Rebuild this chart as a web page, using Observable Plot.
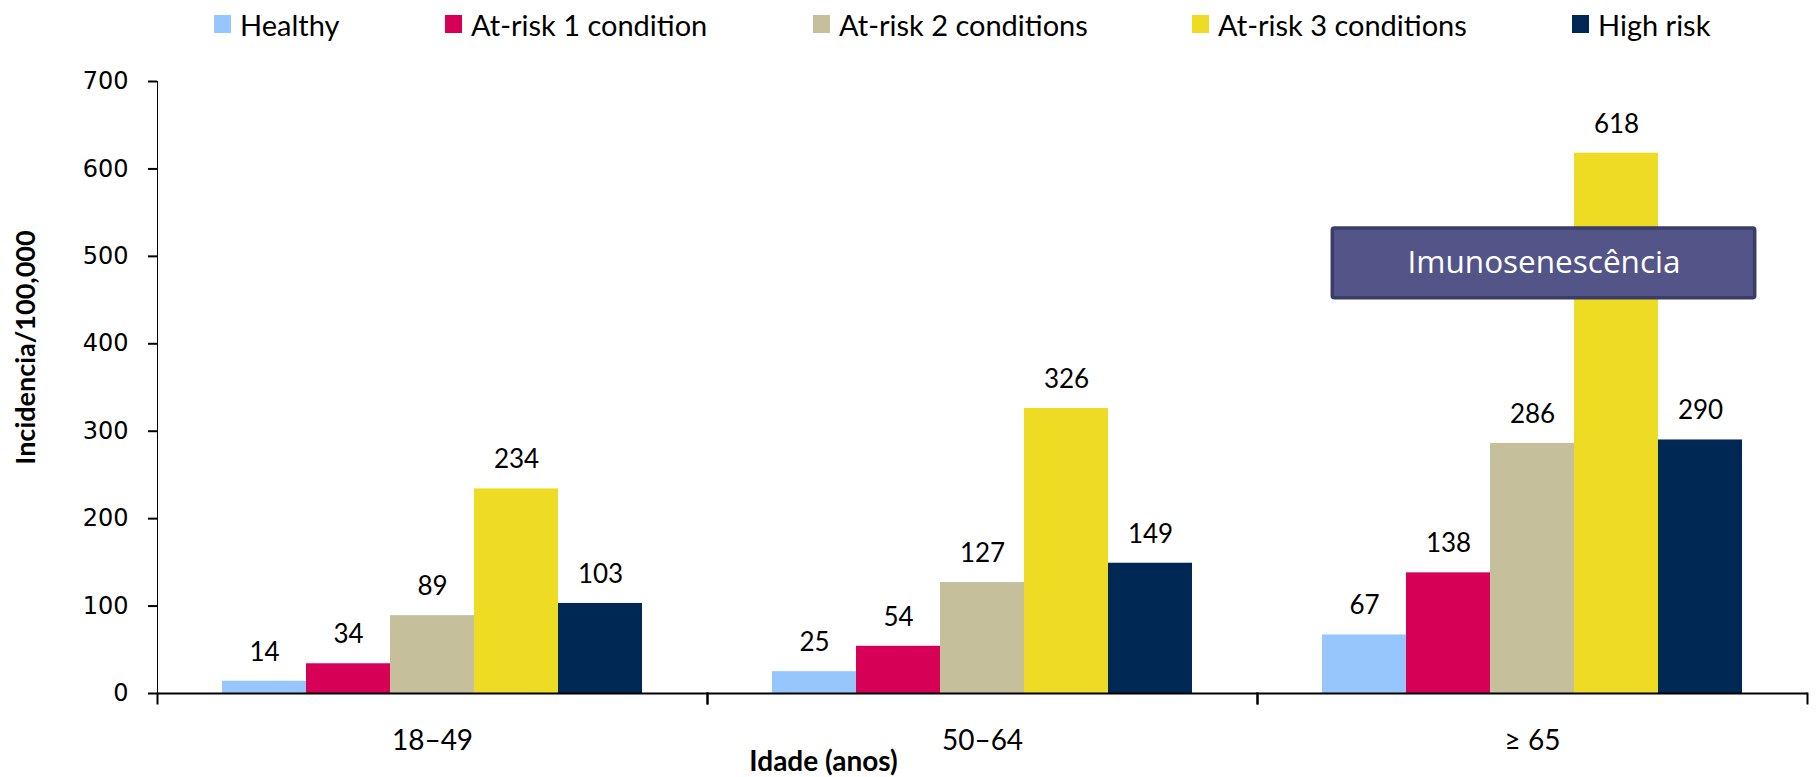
<!DOCTYPE html>
<html>
<head>
<meta charset="utf-8">
<script src="https://cdn.jsdelivr.net/npm/d3@7"></script>
<script src="https://cdn.jsdelivr.net/npm/@observablehq/plot@0.6"></script>
<style>
  html, body { margin: 0; padding: 0; background: #fff; }
  #legend { position: relative; height: 48px; font-family: Lato, sans-serif; font-size: 29px; color: #000; }
  #legend .item { position: absolute; top: 0; height: 48px; display: flex; align-items: center; white-space: nowrap; }
  #legend .sw { width: 17px; height: 18px; margin-right: 9px; }
  #chart svg { display: block; }
  #chart g[aria-label^="y-axis"] text { font-family: "DejaVu Sans", sans-serif; font-size: 24px; }
  #chart g[aria-label^="y-axis"] path, #chart g[aria-label^="y-axis"] line { stroke-width: 2px; }
</style>
</head>
<body>
<div id="legend"></div>
<div id="chart"></div>
<script>
// ---- data ----
const groups = ["18–49", "50–64", "≥ 65"];
const series = ["Healthy", "At-risk 1 condition", "At-risk 2 conditions", "At-risk 3 conditions", "High risk"];
const healthy = [14, 25, 67];
const atRisk1 = [34, 54, 138];
const atRisk2 = [89, 127, 286];
const atRisk3 = [234, 326, 618];
const highRisk = [103, 149, 290];
const colors = ["#97C6FD", "#D60057", "#C6BF9B", "#EEDB24", "#002855"];
const yTicks = [0, 100, 200, 300, 400, 500, 600, 700];
const yLabel = "Incidencia/100,000";
const xLabel = "Idade (anos)";
const annotation = [{group: "≥ 65", series: "At-risk 2 conditions", y1: 452, y2: 532, label: "Imunosenescência"}];

const seriesValues = [healthy, atRisk1, atRisk2, atRisk3, highRisk];
const data = groups.flatMap((g, i) => series.map((s, j) => ({group: g, series: s, value: seriesValues[j][i]})));

// ---- legend ----
const legendLeft = [214, 445, 813, 1192, 1572];
const legend = document.getElementById("legend");
series.forEach((s, j) => {
  const it = document.createElement("div");
  it.className = "item";
  it.style.left = legendLeft[j] + "px";
  const sw = document.createElement("div");
  sw.className = "sw";
  sw.style.background = colors[j];
  const tx = document.createElement("span");
  tx.textContent = s;
  it.appendChild(sw); it.appendChild(tx);
  legend.appendChild(it);
});

// ---- chart ----
const W = 1816, H = 729, mT = 33, mB = 84, mL = 156, mR = 9;
const innerH = H - mT - mB;

const chart = Plot.plot({
  width: W, height: H,
  marginTop: mT, marginBottom: mB, marginLeft: mL, marginRight: mR,
  style: {fontFamily: "Lato, sans-serif", fontSize: "28px", color: "#000", background: "#fff", overflow: "visible"},
  fx: {domain: groups, padding: 0, label: null, tickSize: 0, tickPadding: 37},
  x: {domain: series, paddingInner: 0, paddingOuter: 0.75, axis: null},
  y: {domain: [0, 700], ticks: yTicks, tickSize: 9, tickPadding: 20, label: null, line: true},
  color: {domain: series, range: colors},
  marks: [
    Plot.barY(data, {fx: "group", x: "series", y: "value", fill: "series"}),
    Plot.ruleY([0], {strokeWidth: 2}),
    Plot.frame({anchor: "left", insetTop: innerH, insetBottom: -10, strokeWidth: 2}),
    Plot.frame({anchor: "right", insetTop: innerH, insetBottom: -10, strokeWidth: 2}),
    Plot.text(data, {fx: "group", x: "series", y: "value", text: d => String(d.value), dy: -29, fontSize: 26, fill: "#000"}),
    Plot.barY(annotation, {fx: "group", x: "series", y1: "y1", y2: "y2", fill: "#535487", stroke: "#3B3D69", strokeWidth: 3.5, rx: 2, insetLeft: -157.7, insetRight: -180.7}),
    Plot.text(annotation, {fx: "group", x: "series", y: d => (d.y1 + d.y2) / 2, text: "label", dx: 11.5, fill: "#fff", fontSize: 31.5, fontFamily: "'Open Sans', sans-serif"}),
    Plot.text([{group: groups[0], t: yLabel}], {fx: "group", text: "t", frameAnchor: "left", textAnchor: "middle", lineAnchor: "middle", rotate: -90, dx: -131, dy: -40, fontWeight: "bold", fontSize: 27}),
    Plot.text([{group: groups[1], t: xLabel}], {fx: "group", text: "t", frameAnchor: "bottom", textAnchor: "middle", lineAnchor: "middle", dx: -159, dy: 69, fontWeight: "bold", fontSize: 28})
  ]
});
document.getElementById("chart").appendChild(chart);
</script>
</body>
</html>
